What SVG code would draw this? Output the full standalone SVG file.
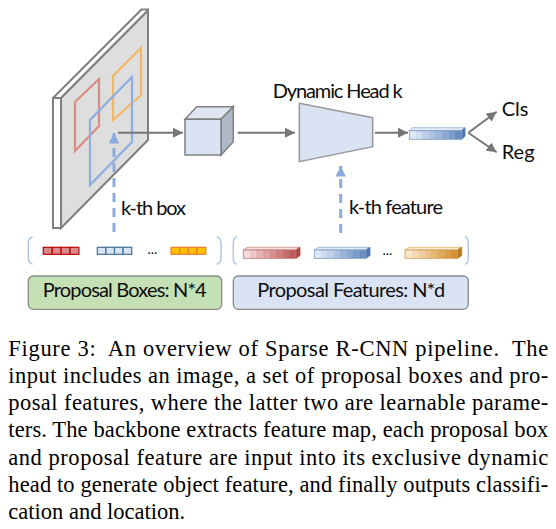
<svg xmlns="http://www.w3.org/2000/svg" width="556" height="529" viewBox="0 0 556 529">
<style>
.lbl{font-family:Lato,"Liberation Sans",sans-serif;font-size:20px;fill:#0d0d0d}
.cap{font-family:"Liberation Serif",serif;font-size:22.5px;fill:#000}
.gl{stroke:#767676;stroke-width:2;fill:none}
.dash{stroke:#8faadc;stroke-width:3;stroke-dasharray:9 6;fill:none}
.brk{stroke:#b4c7e7;stroke-width:1.5;fill:none}
</style>
<defs>
<marker id="ga" viewBox="0 0 10 10" refX="10" refY="5" markerWidth="5" markerHeight="5" orient="auto" markerUnits="strokeWidth"><path d="M0,0 L10,5 L0,10 z" fill="#767676"/></marker>
<marker id="ba" viewBox="0 0 10 10" refX="10" refY="5" markerWidth="3.5" markerHeight="3.5" orient="auto" markerUnits="strokeWidth"><path d="M0,0 L10,5 L0,10 z" fill="#8faadc"/></marker>
<linearGradient id="gr" x1="0" x2="1" y1="0" y2="0">
<stop offset="0" stop-color="#f4dada"/><stop offset=".125" stop-color="#f4dada"/>
<stop offset=".125" stop-color="#ecc8c8"/><stop offset=".25" stop-color="#ecc8c8"/>
<stop offset=".25" stop-color="#e4b5b4"/><stop offset=".375" stop-color="#e4b5b4"/>
<stop offset=".375" stop-color="#dca3a2"/><stop offset=".5" stop-color="#dca3a2"/>
<stop offset=".5" stop-color="#d49190"/><stop offset=".625" stop-color="#d49190"/>
<stop offset=".625" stop-color="#cc7f7e"/><stop offset=".75" stop-color="#cc7f7e"/>
<stop offset=".75" stop-color="#c46e6c"/><stop offset=".875" stop-color="#c46e6c"/>
<stop offset=".875" stop-color="#bc5d5b"/><stop offset="1" stop-color="#bc5d5b"/>
</linearGradient>
<linearGradient id="gb" x1="0" x2="1" y1="0" y2="0">
<stop offset="0" stop-color="#dfe7f4"/><stop offset=".125" stop-color="#dfe7f4"/>
<stop offset=".125" stop-color="#cfdbee"/><stop offset=".25" stop-color="#cfdbee"/>
<stop offset=".25" stop-color="#bfcfe7"/><stop offset=".375" stop-color="#bfcfe7"/>
<stop offset=".375" stop-color="#aec2e0"/><stop offset=".5" stop-color="#aec2e0"/>
<stop offset=".5" stop-color="#9db5d8"/><stop offset=".625" stop-color="#9db5d8"/>
<stop offset=".625" stop-color="#8ca8d0"/><stop offset=".75" stop-color="#8ca8d0"/>
<stop offset=".75" stop-color="#7b9bc8"/><stop offset=".875" stop-color="#7b9bc8"/>
<stop offset=".875" stop-color="#6a8ec0"/><stop offset="1" stop-color="#6a8ec0"/>
</linearGradient>
<linearGradient id="go" x1="0" x2="1" y1="0" y2="0">
<stop offset="0" stop-color="#fbe6cc"/><stop offset=".125" stop-color="#fbe6cc"/>
<stop offset=".125" stop-color="#f6dab6"/><stop offset=".25" stop-color="#f6dab6"/>
<stop offset=".25" stop-color="#f0cea0"/><stop offset=".375" stop-color="#f0cea0"/>
<stop offset=".375" stop-color="#eac28a"/><stop offset=".5" stop-color="#eac28a"/>
<stop offset=".5" stop-color="#e4b574"/><stop offset=".625" stop-color="#e4b574"/>
<stop offset=".625" stop-color="#dea95e"/><stop offset=".75" stop-color="#dea95e"/>
<stop offset=".75" stop-color="#d89d48"/><stop offset=".875" stop-color="#d89d48"/>
<stop offset=".875" stop-color="#d29132"/><stop offset="1" stop-color="#d29132"/>
</linearGradient>
</defs>
<rect width="556" height="529" fill="#fff"/>

<g id="image">
<polygon points="53,98 61,98 61,228 53,228" fill="#fff" stroke="#808080" stroke-width="2"/>
<polygon points="53,98 141.5,9.5 148,9.5 148,10.5 61,98" fill="#fff" stroke="#808080" stroke-width="2" stroke-linejoin="round"/>
<polygon points="61,98 148,10.5 148,140 61,228" fill="#dedede" stroke="#808080" stroke-width="2"/>
<polygon points="75,102 99,79 99,126 75,151" fill="none" stroke="#d98c86" stroke-width="2.2"/>
<polygon points="113,76 141,48 141,95 113,120" fill="none" stroke="#f0b865" stroke-width="2.2"/>
<polygon points="90,120 132,77 132,142 90,185" fill="none" stroke="#8eaee0" stroke-width="2.2"/>
</g>

<g id="cube">
<polygon points="185,119.3 196.7,106.7 233.3,106.7 221,119.3" fill="#dfe6f3" stroke="#808080" stroke-width="1.5"/>
<polygon points="221,119.3 233.3,106.7 233.3,141.7 221,155" fill="#aeb8c8" stroke="#808080" stroke-width="1.5"/>
<rect x="185" y="119.3" width="36" height="35.7" fill="#dae3f3" stroke="#808080" stroke-width="1.5"/>
</g>

<g id="dynamic-head">
<polygon points="299.3,103.3 372.7,117.7 372.7,146.7 299.3,161.7" fill="#dae3f3" stroke="#999" stroke-width="1.5"/>
<text class="lbl" x="272.7" y="98.3" textLength="130">Dynamic Head k</text>
</g>

<g id="object-feature">
<polygon points="409.3,130.7 412.6,127.7 465,127.7 461.7,130.7" fill="#e4eaf5" stroke="#8ca8d0" stroke-width="0.8"/>
<polygon points="461.7,130.7 465,127.7 465,136.3 461.7,139.3" fill="#4f78b0" stroke="#4f78b0" stroke-width="0.8"/>
<rect x="409.3" y="130.7" width="52.4" height="8.6" fill="url(#gb)" stroke="#7b9bc8" stroke-width="0.8"/>
</g>

<g id="cls"><text class="lbl" x="501.7" y="115.7">Cls</text></g>
<g id="reg"><text class="lbl" x="501.7" y="159.3">Reg</text></g>

<g id="proposal-boxes">
<path class="brk" d="M32.7,236.7 Q28.3,238 28.3,243 L28.3,258 Q28.3,263 32.7,264.3"/>
<path class="brk" d="M216.7,236.7 Q221,238 221,243 L221,258 Q221,263 216.7,264.3"/>
<g stroke="#c00000" stroke-width="1.2" fill="#d88a8a">
<rect x="43.3" y="247.3" width="8.9" height="7"/><rect x="52.2" y="247.3" width="8.9" height="7"/><rect x="61.1" y="247.3" width="8.9" height="7"/><rect x="70" y="247.3" width="8.9" height="7"/>
</g>
<g stroke="#41719c" stroke-width="1.2" fill="#dae3f3">
<rect x="97.3" y="247.3" width="8.6" height="7"/><rect x="105.9" y="247.3" width="8.6" height="7"/><rect x="114.5" y="247.3" width="8.6" height="7"/><rect x="123.1" y="247.3" width="8.6" height="7"/>
</g>
<text x="147.5" y="254" font-family="Lato,'Liberation Sans',sans-serif" font-size="14" fill="#111">...</text>
<g stroke="#ed7d31" stroke-width="1.2" fill="#ffc000">
<rect x="171" y="247.3" width="8.7" height="7"/><rect x="179.7" y="247.3" width="8.7" height="7"/><rect x="188.4" y="247.3" width="8.7" height="7"/><rect x="197.1" y="247.3" width="8.7" height="7"/>
</g>
<rect x="28.3" y="276" width="193.4" height="33.3" rx="5" fill="#c5e0b4" stroke="#8a8a8a" stroke-width="1.3"/>
<text class="lbl" x="42.7" y="297.3" textLength="164">Proposal Boxes: N*4</text>
</g>

<g id="proposal-features">
<path class="brk" d="M236.7,236.7 Q233.3,238 233.3,243 L233.3,258 Q233.3,263 236.7,264.3"/>
<path class="brk" d="M465,236.7 Q468.3,238 468.3,243 L468.3,258 Q468.3,263 465,264.3"/>
<polygon points="243.3,250 247.3,247.3 300,247.3 296,250" fill="#f4dede" stroke="#cc8a88" stroke-width="0.8"/>
<polygon points="296,250 300,247.3 300,255.6 296,258.3" fill="#a84a48" stroke="#a84a48" stroke-width="0.8"/>
<rect x="243.3" y="250" width="52.7" height="8.3" fill="url(#gr)" stroke="#c07270" stroke-width="0.8"/>
<polygon points="314.3,250 318.3,247.3 370,247.3 366,250" fill="#e4eaf5" stroke="#8ca8d0" stroke-width="0.8"/>
<polygon points="366,250 370,247.3 370,255.6 366,258.3" fill="#4f78b0" stroke="#4f78b0" stroke-width="0.8"/>
<rect x="314.3" y="250" width="51.7" height="8.3" fill="url(#gb)" stroke="#7b9bc8" stroke-width="0.8"/>
<text x="382.5" y="254.5" font-family="Lato,'Liberation Sans',sans-serif" font-size="14" fill="#111">...</text>
<polygon points="405,250 409,247.3 461.7,247.3 457.7,250" fill="#fcebd4" stroke="#dcae6a" stroke-width="0.8"/>
<polygon points="457.7,250 461.7,247.3 461.7,255.6 457.7,258.3" fill="#b47a20" stroke="#b47a20" stroke-width="0.8"/>
<rect x="405" y="250" width="52.7" height="8.3" fill="url(#go)" stroke="#d29a48" stroke-width="0.8"/>
<rect x="233.3" y="276" width="235" height="33.3" rx="5" fill="#dae3f3" stroke="#8a8a8a" stroke-width="1.3"/>
<text class="lbl" x="257.3" y="297.3" textLength="188">Proposal Features: N*d</text>
</g>

<g id="connectors">
<line class="gl" x1="118" y1="132.7" x2="183" y2="132.7" marker-end="url(#ga)"/>
<line class="gl" x1="237.7" y1="132.7" x2="295" y2="132.7" marker-end="url(#ga)"/>
<line class="gl" x1="375" y1="132.7" x2="408" y2="132.7" marker-end="url(#ga)"/>
<line class="gl" x1="468.3" y1="132.7" x2="496.7" y2="111.7" marker-end="url(#ga)" stroke-width="2.4"/>
<line class="gl" x1="468.3" y1="132.7" x2="496.7" y2="152.3" marker-end="url(#ga)" stroke-width="2.4"/>
<line class="dash" x1="114" y1="232" x2="114" y2="133" marker-end="url(#ba)"/>
<line class="dash" x1="340.7" y1="233" x2="340.7" y2="166" marker-end="url(#ba)"/>
<text class="lbl" x="121" y="214.5" textLength="65">k-th box</text>
<text class="lbl" x="349" y="213.5" textLength="94">k-th feature</text>
</g>

<g id="caption">
<text class="cap" x="8.3" y="356" textLength="540" xml:space="preserve">Figure 3:  An overview of Sparse R-CNN pipeline.  The</text>
<text class="cap" x="8.3" y="383" textLength="540">input includes an image, a set of proposal boxes and pro-</text>
<text class="cap" x="8.3" y="410.2" textLength="540">posal features, where the latter two are learnable parame-</text>
<text class="cap" x="8.3" y="437.4" textLength="540">ters. The backbone extracts feature map, each proposal box</text>
<text class="cap" x="8.3" y="464.7" textLength="540">and proposal feature are input into its exclusive dynamic</text>
<text class="cap" x="8.3" y="492" textLength="540">head to generate object feature, and finally outputs classifi-</text>
<text class="cap" x="8.3" y="519.2">cation and location.</text>
</g>
</svg>
